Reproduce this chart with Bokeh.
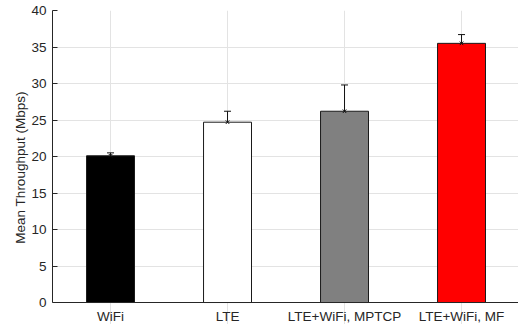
from bokeh.plotting import figure
from bokeh.models import ColumnDataSource, Range1d, FixedTicker, Whisker, TeeHead
from bokeh.embed import file_html
from bokeh.resources import INLINE

categories = ["WiFi", "LTE", "LTE+WiFi, MPTCP", "LTE+WiFi, MF"]
means = [20.1, 24.7, 26.2, 35.5]
err_low = [20.0, 23.2, 22.6, 34.3]
err_high = [20.5, 26.2, 29.8, 36.7]
colors = ["#000000", "#ffffff", "#808080", "#ff0000"]
y_ticks = [0, 5, 10, 15, 20, 25, 30, 35, 40]

xs = list(range(1, len(categories) + 1))
src = ColumnDataSource(dict(x=xs, top=means, lo=err_low, hi=err_high, color=colors))

FONT = "Liberation Sans"
FS = "13.5px"
TXT = "#262626"

p = figure(width=518, height=324, output_backend="svg", toolbar_location=None,
           x_range=Range1d(0.504, 4.487), y_range=Range1d(-3.01, 40),
           min_border_left=52, min_border_right=0, min_border_top=10, min_border_bottom=0)
p.outline_line_color = None
p.background_fill_color = "white"

p.vbar(x="x", top="top", width=0.41, bottom=0, fill_color="color",
       line_color="#1a1a1a", line_width=1, source=src)

w = Whisker(base="x", lower="lo", upper="hi", source=src, line_color="#111111", line_width=1,
            upper_head=TeeHead(size=7, line_color="#111111", line_width=1),
            lower_head=TeeHead(size=7, line_color="#111111", line_width=1))
p.add_layout(w)
p.scatter(x="x", y="top", marker="x", size=5, line_color="#111111", line_width=1, source=src)

p.xaxis.fixed_location = 0
p.xaxis.ticker = FixedTicker(ticks=xs)
p.xaxis.major_label_overrides = {x: c for x, c in zip(xs, categories)}
p.yaxis.ticker = FixedTicker(ticks=y_ticks)
p.yaxis.bounds = (0, 40)

for ax in (p.xaxis[0], p.yaxis[0]):
    ax.major_label_text_font = FONT
    ax.major_label_text_font_size = FS
    ax.major_label_text_color = TXT
    ax.axis_line_color = TXT
    ax.axis_line_width = 1
    ax.major_tick_out = 0
    ax.minor_tick_out = 0
    ax.minor_tick_in = 0
    ax.major_tick_line_color = TXT

p.xaxis.major_tick_in = 0
p.xaxis.major_label_standoff = 6
p.yaxis.major_tick_in = 5
p.yaxis.major_label_standoff = 6

p.yaxis.axis_label = "Mean Throughput (Mbps)"
p.yaxis.axis_label_text_font = FONT
p.yaxis.axis_label_text_font_size = FS
p.yaxis.axis_label_text_font_style = "normal"
p.yaxis.axis_label_text_color = TXT
p.yaxis.axis_label_standoff = 0

p.xgrid.ticker = FixedTicker(ticks=xs)
p.xgrid.bounds = (0, 40)
p.ygrid.ticker = FixedTicker(ticks=y_ticks)
p.grid.grid_line_color = "#e3e3e3"
p.grid.grid_line_width = 1

open("out.html", "w").write(file_html(p, INLINE))
